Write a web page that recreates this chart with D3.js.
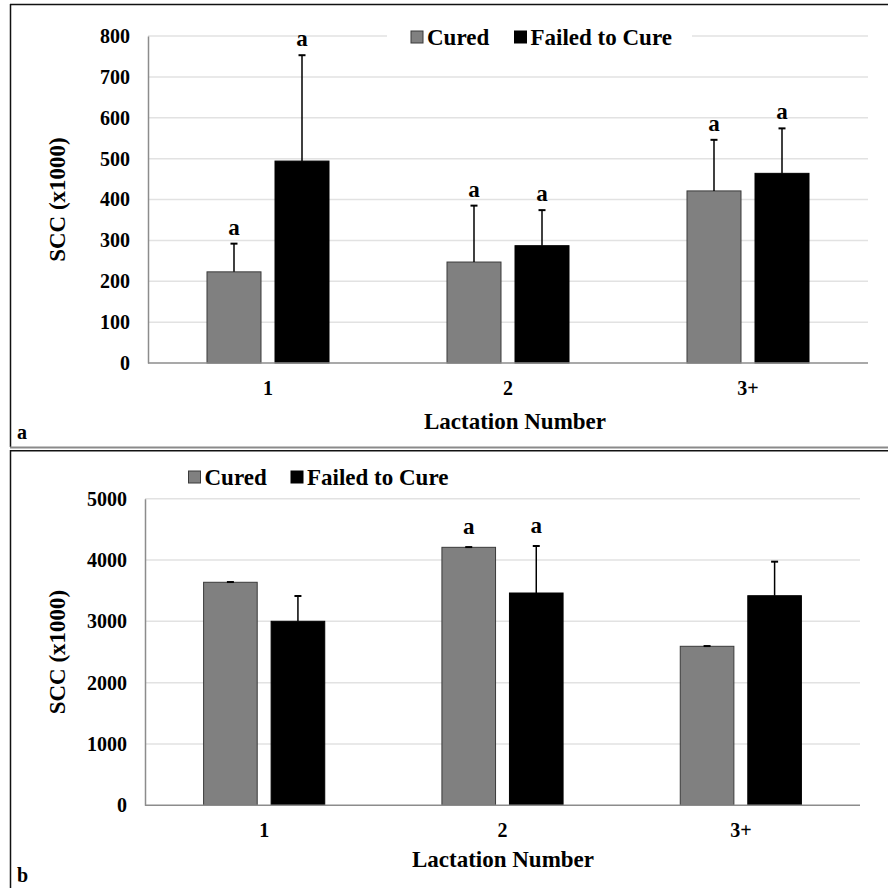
<!DOCTYPE html>
<html>
<head>
<meta charset="utf-8">
<script src="https://cdn.jsdelivr.net/npm/d3@7"></script>
<style>
  html, body { margin: 0; padding: 0; background: #fff; }
</style>
</head>
<body>
<svg id="fig" width="888" height="888"></svg>
<script>
// Lactation groups
const categories = ["1", "2", "3+"];
const seriesNames = ["Cured", "Failed to Cure"];

// Panel a: mean SCC (x1000) with upper standard error
const aCured = [223, 247, 421];
const aCuredSE = [69, 138, 125];
const aFailed = [494, 287, 464];
const aFailedSE = [259, 87, 110];
const aCuredLetters = ["a", "a", "a"];
const aFailedLetters = ["a", "a", "a"];
const aTicks = [0, 100, 200, 300, 400, 500, 600, 700, 800];

// Panel b
const bCured = [3637, 4207, 2593];
const bCuredSE = [4, 4, 4];
const bFailed = [3001, 3462, 3418];
const bFailedSE = [412, 767, 555];
const bCuredLetters = ["", "a", ""];
const bFailedLetters = ["", "a", ""];
const bTicks = [0, 1000, 2000, 3000, 4000, 5000];

const fills = ["#808080", "#000000"];
const strokes = ["#3a3a3a", "#000000"];

const svg = d3.select("#fig");

function label(sel, size) {
  return sel.attr("font-family", "Liberation Serif").attr("font-weight", "bold")
    .attr("font-size", size).attr("fill", "#000");
}

// Frame lines around the two panels
const frame = svg.append("g");
frame.append("line").attr("x1", 10).attr("x2", 888).attr("y1", 4.5).attr("y2", 4.5)
  .attr("stroke", "#111").attr("stroke-width", 1.5);
frame.append("line").attr("x1", 10.5).attr("x2", 10.5).attr("y1", 4).attr("y2", 447)
  .attr("stroke", "#111").attr("stroke-width", 1.5);
frame.append("line").attr("x1", 10).attr("x2", 888).attr("y1", 447.5).attr("y2", 447.5)
  .attr("stroke", "#8a8a8a").attr("stroke-width", 2);
frame.append("line").attr("x1", 10).attr("x2", 888).attr("y1", 450.8).attr("y2", 450.8)
  .attr("stroke", "#111").attr("stroke-width", 1.5);
frame.append("line").attr("x1", 10.5).attr("x2", 10.5).attr("y1", 450).attr("y2", 888)
  .attr("stroke", "#111").attr("stroke-width", 1.5);

function drawPanel(cfg) {
  const g = svg.append("g");
  const y = d3.scaleLinear().domain([0, cfg.ticks[cfg.ticks.length - 1]]).range([cfg.bottom, cfg.top]);
  const x0 = d3.scaleBand().domain(categories).range([cfg.left, cfg.right]).padding(0);
  const bw = x0.bandwidth();
  const x1 = d3.scaleBand().domain(seriesNames)
    .range([bw / 2 - 61 * bw / 240, bw / 2 + 61 * bw / 240]).paddingInner(0.206).paddingOuter(0);

  // horizontal gridlines
  g.append("g").selectAll("line").data(cfg.ticks.slice(1)).join("line")
    .attr("x1", cfg.left).attr("x2", cfg.right)
    .attr("y1", d => y(d)).attr("y2", d => y(d))
    .attr("stroke", "#e2e2e2").attr("stroke-width", 1.5);

  // y axis
  const yAxis = g.append("g").attr("transform", `translate(${cfg.left},0)`)
    .call(d3.axisLeft(y).tickValues(cfg.ticks).tickFormat(d3.format("d")).tickSize(0).tickPadding(cfg.tickPad));
  yAxis.attr("font-family", "Liberation Serif").attr("font-size", 20);
  yAxis.select(".domain").attr("stroke", "#8c8c8c").attr("stroke-width", 1.5);
  label(yAxis.selectAll("text"), 20);

  // bars
  const rows = categories.map((c, i) => [
    { cat: c, s: seriesNames[0], v: cfg.cured[i], se: cfg.curedSE[i], lab: cfg.curedLetters[i], k: 0 },
    { cat: c, s: seriesNames[1], v: cfg.failed[i], se: cfg.failedSE[i], lab: cfg.failedLetters[i], k: 1 }
  ]).flat();

  g.append("g").selectAll("rect").data(rows).join("rect")
    .attr("x", d => x0(d.cat) + x1(d.s))
    .attr("width", x1.bandwidth())
    .attr("y", d => y(d.v))
    .attr("height", d => y(0) - y(d.v))
    .attr("fill", d => fills[d.k])
    .attr("stroke", d => strokes[d.k]).attr("stroke-width", 1);

  // x axis line
  g.append("line").attr("x1", cfg.left).attr("x2", cfg.right)
    .attr("y1", y(0)).attr("y2", y(0)).attr("stroke", "#8c8c8c").attr("stroke-width", 1.5);

  // upper error bars
  const eb = g.append("g").attr("stroke", "#000").attr("stroke-width", 1.5);
  eb.selectAll("line.v").data(rows).join("line").attr("class", "v")
    .attr("x1", d => x0(d.cat) + x1(d.s) + x1.bandwidth() / 2)
    .attr("x2", d => x0(d.cat) + x1(d.s) + x1.bandwidth() / 2)
    .attr("y1", d => y(d.v)).attr("y2", d => y(d.v + d.se));
  eb.selectAll("line.c").data(rows).join("line").attr("class", "c")
    .attr("x1", d => x0(d.cat) + x1(d.s) + x1.bandwidth() / 2 - 3.5)
    .attr("x2", d => x0(d.cat) + x1(d.s) + x1.bandwidth() / 2 + 3.5)
    .attr("y1", d => y(d.v + d.se)).attr("y2", d => y(d.v + d.se))
    .attr("stroke-width", 2);

  // significance letters
  label(g.append("g").selectAll("text").data(rows.filter(d => d.lab)).join("text")
    .attr("x", d => x0(d.cat) + x1(d.s) + x1.bandwidth() / 2)
    .attr("y", d => y(d.v + d.se) - cfg.letterGap)
    .attr("text-anchor", "middle"), 23)
    .text(d => d.lab);

  // category labels
  label(g.append("g").selectAll("text").data(categories).join("text")
    .attr("x", d => x0(d) + bw / 2).attr("y", cfg.catY)
    .attr("text-anchor", "middle"), 20)
    .text(d => d);

  // axis titles
  label(g.append("text").attr("x", cfg.xTitleX).attr("y", cfg.xTitleY)
    .attr("text-anchor", "middle"), 23).text("Lactation Number");
  label(g.append("text")
    .attr("transform", `translate(${cfg.yTitleX},${(cfg.top + cfg.bottom) / 2}) rotate(-90)`)
    .attr("text-anchor", "middle"), 23).text("SCC (x1000)");

  // legend
  const lg = g.append("g");
  if (cfg.legendBg) {
    lg.append("rect").attr("x", cfg.legendBg[0]).attr("width", cfg.legendBg[1] - cfg.legendBg[0])
      .attr("y", cfg.legendY - 14).attr("height", 28).attr("fill", "#fff");
  }
  seriesNames.forEach((s, i) => {
    const lx = cfg.legendX[i];
    lg.append("rect").attr("x", lx).attr("y", cfg.legendY - 6).attr("width", 12).attr("height", 12)
      .attr("fill", fills[i]).attr("stroke", strokes[i]).attr("stroke-width", 1);
    label(lg.append("text").attr("x", lx + 16).attr("y", cfg.legendY + 8), 23).text(s);
  });

  // panel letter
  label(g.append("text").attr("x", 17).attr("y", cfg.panelY), 20).text(cfg.panel);
}

drawPanel({
  panel: "a", panelY: 439,
  cured: aCured, curedSE: aCuredSE, failed: aFailed, failedSE: aFailedSE,
  curedLetters: aCuredLetters, failedLetters: aFailedLetters, ticks: aTicks,
  left: 148, right: 868, top: 36, bottom: 363, tickPad: 18,
  letterGap: 9, catY: 395, xTitleX: 515, xTitleY: 429, yTitleX: 65,
  legendX: [411, 514.5], legendY: 37, legendBg: [387, 692]
});

drawPanel({
  panel: "b", panelY: 882,
  cured: bCured, curedSE: bCuredSE, failed: bFailed, failedSE: bFailedSE,
  curedLetters: bCuredLetters, failedLetters: bFailedLetters, ticks: bTicks,
  left: 145, right: 860, top: 498.7, bottom: 805.3, tickPad: 18,
  letterGap: 13, catY: 837, xTitleX: 503, xTitleY: 867, yTitleX: 65,
  legendX: [188.5, 291], legendY: 477, legendBg: null
});
</script>
</body>
</html>
